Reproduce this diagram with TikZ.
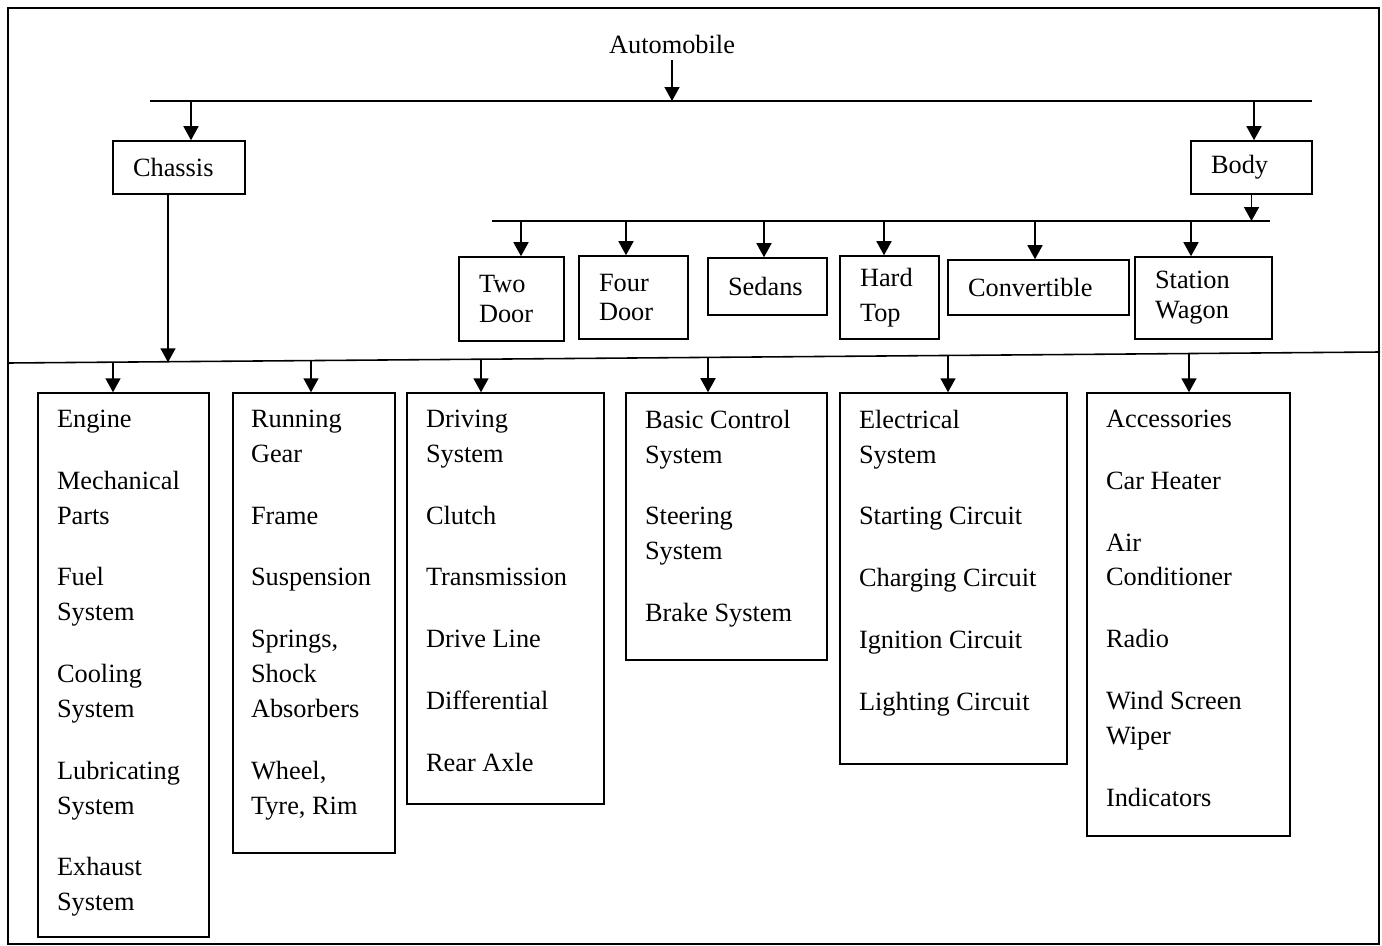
\documentclass[tikz,border=0pt]{standalone}
\usepackage{fontspec}
\setmainfont{Liberation Serif}
\usetikzlibrary{arrows.meta,positioning}
\newcommand{\itemgap}{\\[15.4pt]}

\begin{document}
\begin{tikzpicture}[x=0.02cm, y=-0.02cm,
    font=\fontsize{15}{17}\selectfont,
    line width=0.9pt,
    arr/.style={-{Triangle[length=0.28cm,width=0.3cm]}},
    headbox/.style={draw, align=left, inner xsep=0.4cm, inner ysep=0pt},
    listbox/.style={draw},
    listtext/.style={align=left, inner sep=0pt, font=\fontsize{15}{19.8}\selectfont}]
    \useasboundingbox (0,0) rectangle (1382,946);
    \draw[line width=1.4pt] (8,8) rectangle (1379,944);

    % top level
    \node (auto) at (672,44) {Automobile};
    \coordinate (busAw) at (150,101);
    \coordinate (busAe) at (1312,101);
    \draw (busAw) -- (busAe);
    \draw[arr] (auto.south) -- (auto.south |- busAw);

    \node[headbox, text width=1.84cm, minimum height=1.06cm] (chassis) at (179,167.5) {Chassis};
    \node[headbox, text width=1.62cm, minimum height=1.06cm] (body) at (1251.5,167.5) {Body};
    \foreach \x/\n in {191/chassis, 1254/body}
        \draw[arr] (busAw -| \x,0) -- (\n.north -| \x,0);

    % body types
    \coordinate (busBw) at (492,221);
    \coordinate (busBe) at (1270,221);
    \draw (busBw) -- (busBe);
    \draw[arr] (body.south) -- (body.south |- busBw);

    \node[headbox, text width=1.3cm, minimum height=1.68cm] (twodoor) at (511.5,299) {Two\\Door};
    \node[headbox, text width=1.38cm, minimum height=1.66cm] (fourdoor) at (633.5,297.5) {Four\\Door};
    \node[headbox, text width=1.58cm, minimum height=1.14cm] (sedans) at (767.5,286.5) {Sedans};
    \node[headbox, text width=1.18cm, minimum height=1.66cm] (hardtop) at (889.5,297.5) {Hard\\[3pt]Top};
    \node[headbox, text width=2.82cm, minimum height=1.1cm] (convertible) at (1038.5,287.5) {Convertible};
    \node[headbox, text width=1.94cm, minimum height=1.64cm] (wagon) at (1203.5,298) {Station\\Wagon};
    \foreach \x/\n in {521/twodoor, 626/fourdoor, 764/sedans, 884/hardtop, 1035/convertible, 1191/wagon}
        \draw[arr] (busBw -| \x,0) -- (\n.north -| \x,0);

    % chassis groups
    \coordinate (busCw) at (8,363);
    \coordinate (busCe) at (1380,352);
    \draw (busCw) -- (busCe);
    \draw[arr] (chassis.south -| 168,0) -- (168,362.3);

    \node[listbox, minimum width=3.42cm, minimum height=10.88cm] (engine) at (123.5,665) {};
    \node[listbox, minimum width=3.24cm, minimum height=9.2cm] (running) at (314,623) {};
    \node[listbox, minimum width=3.94cm, minimum height=8.22cm] (driving) at (505.5,598.5) {};
    \node[listbox, minimum width=4.02cm, minimum height=5.34cm] (basic) at (726.5,526.5) {};
    \node[listbox, minimum width=4.54cm, minimum height=7.42cm] (electrical) at (953.5,578.5) {};
    \node[listbox, minimum width=4.06cm, minimum height=8.86cm] (accessories) at (1188.5,614.5) {};
    \foreach \x/\y/\n in {113/362.2/engine, 311/360.6/running, 481/359.2/driving, 708/357.4/basic, 948/355.5/electrical, 1189/353.5/accessories}
        \draw[arr] (\x,\y) -- (\n.north -| \x,0);

    \node[listtext, below right=0.34cm and 0.38cm of engine.north west] (engineTxt)
        {Engine\itemgap Mechanical\\Parts\itemgap Fuel\\System\itemgap Cooling\\System\itemgap Lubricating\\System\itemgap Exhaust\\System};
    \node[listtext, below right=0.34cm and 0.36cm of running.north west] (runningTxt)
        {Running\\Gear\itemgap Frame\itemgap Suspension\itemgap Springs,\\Shock\\Absorbers\itemgap Wheel,\\Tyre, Rim};
    \node[listtext, below right=0.34cm and 0.38cm of driving.north west] (drivingTxt)
        {Driving\\System\itemgap Clutch\itemgap Transmission\itemgap Drive Line\itemgap Differential\itemgap Rear Axle};
    \node[listtext, below right=0.34cm and 0.38cm of basic.north west] (basicTxt)
        {Basic Control\\System\itemgap Steering\\System\itemgap Brake System};
    \node[listtext, below right=0.34cm and 0.38cm of electrical.north west] (electricalTxt)
        {Electrical\\System\itemgap Starting Circuit\itemgap Charging Circuit\itemgap Ignition Circuit\itemgap Lighting Circuit};
    \node[listtext, below right=0.34cm and 0.38cm of accessories.north west] (accessoriesTxt)
        {Accessories\itemgap Car Heater\itemgap Air\\Conditioner\itemgap Radio\itemgap Wind Screen\\Wiper\itemgap Indicators};
\end{tikzpicture}
\end{document}
